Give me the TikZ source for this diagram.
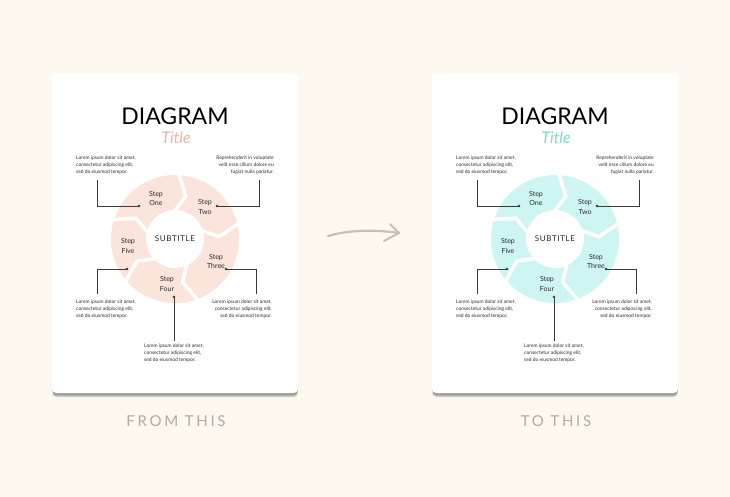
\documentclass[tikz,border=0pt]{standalone}
\usepackage{fontspec}
\setmainfont{Lato}
\usetikzlibrary{positioning}

\definecolor{paper}{HTML}{FDF9F1}
\definecolor{peach}{HTML}{FBE4DB}
\definecolor{peachtitle}{HTML}{EDB3A3}
\definecolor{aqua}{HTML}{CDF6F3}
\definecolor{aquatitle}{HTML}{7FD9D1}
\definecolor{ink}{HTML}{2B2B2B}
\definecolor{wire}{HTML}{3A3A3A}
\definecolor{caption}{HTML}{B5A9A5}
\definecolor{arrowgray}{HTML}{CBBDB9}
\definecolor{shade}{HTML}{EADFD3}

\begin{document}
\begin{tikzpicture}[x=1pt,y=-1pt,
  card/.style={fill=white, rounded corners=4pt, minimum width=246pt,
    minimum height=320pt, inner sep=0},
  lorem/.style={font=\fontsize{4.9}{7}\selectfont, text=ink, inner sep=0},
  steplabel/.style={font=\fontsize{7}{9.3}\selectfont, align=center, text=ink, inner sep=0},
  dot/.style={circle, fill=wire, inner sep=0, minimum size=2.8pt},
  wire/.style={draw=wire, line width=0.8pt}]

  % ------------------- background ----------------------
  \fill[paper] (0,0) rectangle (730,497);
  \useasboundingbox (0,0) rectangle (730,497);

  % ------------------- cards ----------------------
  \foreach \ox/\ring/\accent/\nm/\cap in {0/peach/peachtitle/from/FROM THIS,
                                          380/aqua/aquatitle/to/TO THIS} {
    \begin{scope}[xshift=\ox]
      \foreach \s in {1,...,5} {
        \fill[shade, opacity=0.2, rounded corners=4pt] (52.5,73+\s) rectangle (297.5,393+\s*0.8);
      }
      \node[card] (\nm-card) at (175,233) {};

      \node[anchor=base, font=\fontsize{23}{23}\selectfont, text=black] (\nm-head) at (175,125) {DIAGRAM};
      \node[font=\fontsize{16}{16}\selectfont\itshape, text=\accent] (\nm-title) at (176,138) {Title};

      % ring
      \fill[\ring] (175,239) circle[radius=64];
      \foreach \a/\m/\i in {-88/-76/-94,-15/-3/-21,68/80/62,138/150/132,-164/-152/-170} {
        \draw[white, line width=3.6pt, line join=miter, shift={(175,239)}] (\a:70) -- (\m:44) -- (\i:26);
      }
      \fill[white] (175,239) circle[radius=29];
      \node[font=\fontsize{8}{8}\selectfont\addfontfeature{LetterSpace=8}, text=ink] (\nm-sub) at (175,239) {SUBTITLE};

      \node[steplabel] (\nm-one)   at (156,198.5) {Step\\One};
      \node[steplabel] (\nm-two)   at (205,207)   {Step\\Two};
      \node[steplabel] (\nm-three) at (216,261.5) {Step\\Three};
      \node[steplabel] (\nm-four)  at (167,284)   {Step\\Four};
      \node[steplabel] (\nm-five)  at (128,246)   {Step\\Five};

      % texts
      \node[lorem, anchor=north west, align=left] (\nm-t1) at (76,155.5)
        {Lorem ipsum dolor sit amet,\\consectetur adipiscing elit,\\sed do eiusmod tempor.};
      \node[lorem, anchor=north east, align=right] (\nm-t2) at (274,155.5)
        {Reprehenderit in voluptate\\velit esse cillum dolore eu\\fugiat nulla pariatur.};
      \node[lorem, anchor=north west, align=left] (\nm-t5) at (76,300)
        {Lorem ipsum dolor sit amet,\\consectetur adipiscing elit,\\sed do eiusmod tempor.};
      \node[lorem, anchor=north east, align=right] (\nm-t3) at (272,300)
        {Lorem ipsum dolor sit amet,\\consectetur adipiscing elit,\\sed do eiusmod tempor.};
      \node[lorem, anchor=north west, align=left] (\nm-t4) at (144,344)
        {Lorem ipsum dolor sit amet,\\consectetur adipiscing elit,\\sed do eiusmod tempor.};

      % connectors
      \node[dot] (\nm-d1) at (139,206) {};
      \node[dot] (\nm-d2) at (217,206) {};
      \node[dot] (\nm-d3) at (226,269) {};
      \node[dot] (\nm-d4) at (174,297) {};
      \node[dot] (\nm-d5) at (127,269) {};
      \coordinate (\nm-e1) at (97,180);
      \coordinate (\nm-e2) at (259,180);
      \coordinate (\nm-e3) at (256,294);
      \coordinate (\nm-e4) at (174,341);
      \coordinate (\nm-e5) at (97,294);
      \draw[wire] (\nm-e1) |- (\nm-d1.center);
      \draw[wire] (\nm-e2) |- (\nm-d2.center);
      \draw[wire] (\nm-d3.center) -| (\nm-e3);
      \draw[wire] (\nm-d4.center) -- (\nm-e4);
      \draw[wire] (\nm-d5.center) -| (\nm-e5);

      \node[font=\fontsize{15}{15}\selectfont\addfontfeature{LetterSpace=18}, text=caption] (\nm-cap) at (176,421) {\cap};
    \end{scope}
  }

  % ------------------- arrow ----------------------
  \coordinate (from-tail) at (328,236);
  \coordinate (to-tip) at (399,233);
  \draw[draw=arrowgray, line width=2.2pt, line cap=round] (from-tail) .. controls (352,229) and (378,230) .. (to-tip);
  \draw[draw=arrowgray, line width=2pt, line cap=round, line join=round] (390,224) -- (to-tip) -- (384,241);
\end{tikzpicture}
\end{document}
